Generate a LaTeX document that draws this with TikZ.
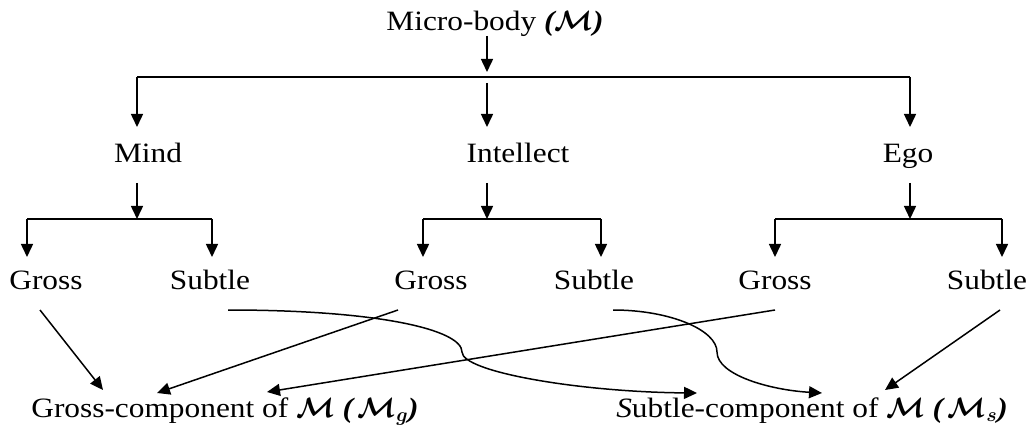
\RequirePackage{fix-cm}
\documentclass[tikz,border=0pt]{standalone}
\usepackage{amsmath,bm,graphicx}
\usepackage{fontspec}
\setmainfont{Liberation Serif}[FakeStretch=1.12]
\usetikzlibrary{arrows.meta}
\newcommand{\MMc}{\ensuremath{\bm{\mathcal{M}}}}
\newcommand{\bip}[1]{{\bfseries\itshape #1}}
\tikzset{
  lbl/.style={inner sep=0pt, anchor=base, font=\fontsize{28}{32}\selectfont},
  ln/.style={line width=1.5pt},
  arr/.style={line width=1.5pt, -{Triangle[length=13pt,width=12pt]}},
}
\begin{document}
\begin{tikzpicture}[x=1pt,y=-1pt]
\useasboundingbox (0,0) rectangle (1032,427);
% labels
\node[lbl] (mb) at (495,31) {Micro-body \bip{(}\MMc\bip{)}};
\node[lbl] (mind) at (148,163) {Mind};
\node[lbl] (intel) at (518,163) {Intellect};
\node[lbl] (ego) at (908,163) {Ego};
\node[lbl] (g1) at (46,290) {Gross};
\node[lbl] (s1) at (210,290) {Subtle};
\node[lbl] (g2) at (431,290) {Gross};
\node[lbl] (s2) at (594,290) {Subtle};
\node[lbl] (g3) at (775,290) {Gross};
\node[lbl] (s3) at (987,290) {Subtle};
\node[lbl] (gc) at (225,417) {Gross-component of \MMc\ \bip{(}\,$\bm{\mathcal{M}_{g}}$\bip{)}};
\node[lbl] (sc) at (812,417) {\textit{S}ubtle-component of \MMc\ \bip{(}\,$\bm{\mathcal{M}_{s}}$\bip{)}};
% junction coordinates
\coordinate (t0) at (487,36);
\coordinate (t1) at (487,72);
\coordinate (hl) at (137,77);
\coordinate (hr) at (910,77);
\coordinate (hm) at (487,83);
\coordinate (mindin) at (137,127);
\coordinate (intelin) at (487,127);
\coordinate (egoin) at (910,127);
% top level
\draw[arr] (t0) -- (t1);
\draw[ln] (hl) -- (hr);
\draw[arr] (hl) -- (mindin);
\draw[arr] (hr) -- (egoin);
\draw[arr] (hm) -- (intelin);
% Mind
\coordinate (m0) at (137,183); \coordinate (m1) at (137,219);
\coordinate (ml) at (27,219); \coordinate (mr) at (212,219);
\coordinate (g1in) at (27,257); \coordinate (s1in) at (212,257);
\draw[arr] (m0) -- (m1);
\draw[ln] (ml) -- (mr);
\draw[arr] (ml) -- (g1in);
\draw[arr] (mr) -- (s1in);
% Intellect
\coordinate (i0) at (487,183); \coordinate (i1) at (487,219);
\coordinate (il) at (423,219); \coordinate (ir) at (601,219);
\coordinate (g2in) at (423,257); \coordinate (s2in) at (601,257);
\draw[arr] (i0) -- (i1);
\draw[ln] (il) -- (ir);
\draw[arr] (il) -- (g2in);
\draw[arr] (ir) -- (s2in);
% Ego
\coordinate (e0) at (910,183); \coordinate (e1) at (910,219);
\coordinate (el) at (775,219); \coordinate (er) at (1002,219);
\coordinate (g3in) at (775,257); \coordinate (s3in) at (1002,257);
\draw[arr] (e0) -- (e1);
\draw[ln] (el) -- (er);
\draw[arr] (el) -- (g3in);
\draw[arr] (er) -- (s3in);
% outputs
\coordinate (g1o) at (40,310);
\coordinate (s1o) at (228,310);
\coordinate (g2o) at (398,310);
\coordinate (s2o) at (613,310);
\coordinate (g3o) at (775,310);
\coordinate (s3o) at (1000,310);
\coordinate (gca) at (103,390);
\coordinate (gcb) at (157,393);
\coordinate (gcc) at (267,392);
\coordinate (sca) at (697,393);
\coordinate (scb) at (822,393);
\coordinate (scc) at (885,390);
\draw[arr] (g1o) -- (gca);
\draw[arr] (g2o) -- (gcb);
\draw[arr] (g3o) -- (gcc);
\draw[arr] (s3o) -- (scc);
\draw[arr] (s1o) .. controls (380,310) and (462,330) .. (462,352)
  .. controls (462,372) and (580,392) .. (sca);
\draw[arr] (s2o) .. controls (670,310) and (717,330) .. (717,352)
  .. controls (717,375) and (770,390) .. (scb);
\end{tikzpicture}
\end{document}
